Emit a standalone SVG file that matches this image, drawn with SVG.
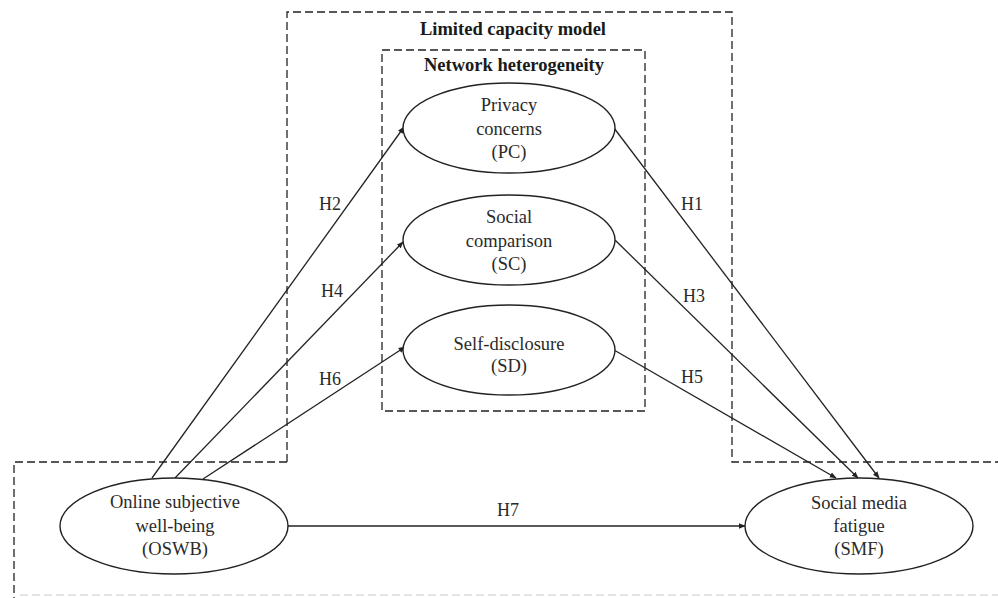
<svg xmlns="http://www.w3.org/2000/svg" width="998" height="598" viewBox="0 0 998 598">
  <style>
    .bg { fill: #ffffff; }
    .frame { fill: none; stroke: #222; stroke-width: 1.3; stroke-dasharray: 8 4; }
    .frame-faint { fill: none; stroke: #c8c8c8; stroke-width: 1.2; stroke-dasharray: 8 4; }
    .node { fill: #ffffff; stroke: #222; stroke-width: 1.4; }
    .edge { fill: none; stroke: #222; stroke-width: 1.3; marker-end: url(#arrow); }
    .txt { font-family: "Liberation Serif", "Times New Roman", serif; font-size: 18.5px; fill: #2a2a2a; text-anchor: middle; }
    .title { font-family: "Liberation Serif", "Times New Roman", serif; font-size: 18.5px; font-weight: bold; fill: #1a1a1a; text-anchor: middle; }
    .lbl { font-family: "Liberation Serif", "Times New Roman", serif; font-size: 18px; fill: #2a2a2a; text-anchor: middle; }
  </style>
  <defs>
    <marker id="arrow" viewBox="0 0 10 10" refX="9" refY="5" markerWidth="7" markerHeight="7" markerUnits="userSpaceOnUse" orient="auto">
      <path d="M0,1 L10,5 L0,9 Z" fill="#222"/>
    </marker>
  </defs>

  <rect class="bg" x="0" y="0" width="998" height="598"/>

  <!-- dashed frames -->
  <g id="frames">
    <!-- limited capacity model: upper block joined to the wide lower band -->
    <path class="frame" d="M287,462 L287,12 L732,12 L732,462 L998,462"/>
    <path class="frame" d="M287,462 L14,462 L14,598"/>
    <path class="frame-faint" d="M20,595 L998,595"/>
    <!-- network heterogeneity -->
    <rect class="frame" x="382" y="50" width="263" height="361"/>
    <text class="title" x="513" y="35">Limited capacity model</text>
    <text class="title" x="514" y="71">Network heterogeneity</text>
  </g>

  <!-- connectors -->
  <g id="connectors">
    <line class="edge" x1="152" y1="478" x2="404" y2="127"/>
    <line class="edge" x1="175" y1="478" x2="403" y2="242"/>
    <line class="edge" x1="203" y1="479" x2="405" y2="347"/>
    <line class="edge" x1="614" y1="128" x2="879" y2="478"/>
    <line class="edge" x1="615" y1="240" x2="858" y2="478"/>
    <line class="edge" x1="614" y1="350" x2="836" y2="478"/>
    <line class="edge" x1="288" y1="526" x2="745" y2="526"/>
    <text class="lbl" x="330" y="210">H2</text>
    <text class="lbl" x="332" y="297">H4</text>
    <text class="lbl" x="330" y="385">H6</text>
    <text class="lbl" x="692" y="210">H1</text>
    <text class="lbl" x="694" y="302">H3</text>
    <text class="lbl" x="692" y="383">H5</text>
    <text class="lbl" x="508" y="516">H7</text>
  </g>

  <g id="PC">
    <ellipse class="node" cx="509" cy="128" rx="106" ry="45"/>
    <text class="txt" x="509" y="111">Privacy</text>
    <text class="txt" x="509" y="135">concerns</text>
    <text class="txt" x="509" y="158">(PC)</text>
  </g>

  <g id="SC">
    <ellipse class="node" cx="509" cy="240" rx="106" ry="45"/>
    <text class="txt" x="509" y="223">Social</text>
    <text class="txt" x="509" y="247">comparison</text>
    <text class="txt" x="509" y="270">(SC)</text>
  </g>

  <g id="SD">
    <ellipse class="node" cx="509" cy="350" rx="106" ry="45"/>
    <text class="txt" x="509" y="350">Self-disclosure</text>
    <text class="txt" x="509" y="372">(SD)</text>
  </g>

  <g id="OSWB">
    <ellipse class="node" cx="174" cy="526" rx="114" ry="48"/>
    <text class="txt" x="175" y="508">Online subjective</text>
    <text class="txt" x="175" y="532">well-being</text>
    <text class="txt" x="175" y="555">(OSWB)</text>
  </g>

  <g id="SMF">
    <ellipse class="node" cx="859" cy="526" rx="114" ry="48"/>
    <text class="txt" x="859" y="509">Social media</text>
    <text class="txt" x="859" y="532">fatigue</text>
    <text class="txt" x="859" y="555">(SMF)</text>
  </g>
</svg>
